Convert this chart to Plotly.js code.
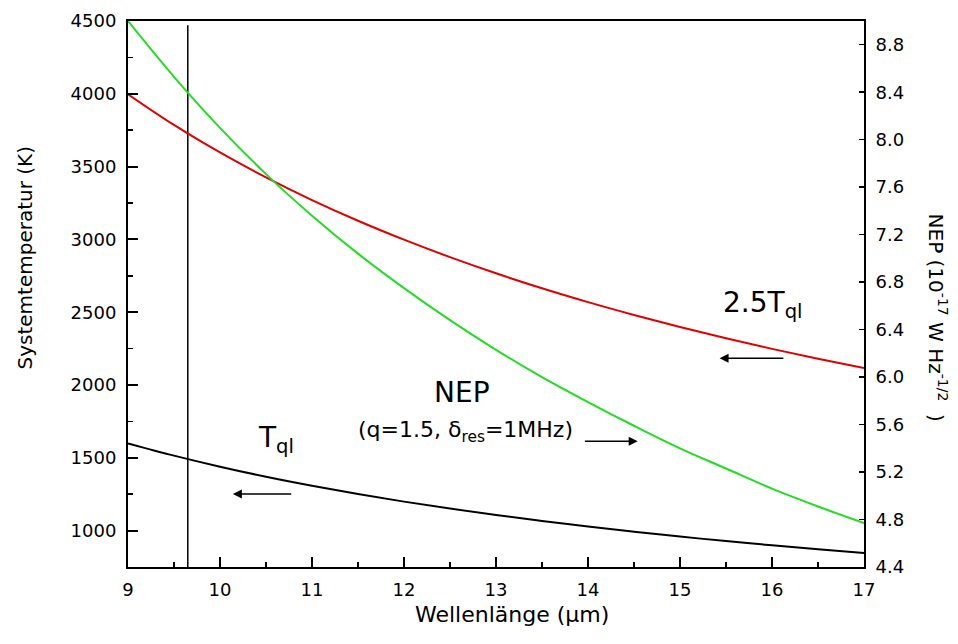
<!DOCTYPE html>
<html>
<head>
<meta charset="utf-8">
<script src="https://cdn.plot.ly/plotly-3.0.1.min.js"></script>
<style>html,body{margin:0;padding:0;background:#fff;}#chart{width:958px;height:644px;}</style>
</head>
<body>
<div id="chart"></div>
<script>
// Wavelength (µm)
const wavelength = [9, 9.5, 10, 10.5, 11, 11.5, 12, 12.5, 13, 13.5, 14, 14.5, 15, 15.5, 16, 16.5, 17];
// T_ql (K), black
const tql = [1599, 1515, 1439, 1370, 1308, 1251, 1199, 1151, 1107, 1066, 1028, 992, 959, 928, 899, 872, 846];
// 2.5 T_ql (K), red
const tql25 = [3997, 3786, 3597, 3426, 3270, 3128, 2998, 2878, 2767, 2664, 2569, 2481, 2398, 2321, 2248, 2180, 2116];
// NEP (1e-17 W Hz^-1/2), green, right axis
const nep = [9.0, 8.53, 8.1, 7.71, 7.36, 7.04, 6.75, 6.48, 6.23, 6.0, 5.79, 5.59, 5.4, 5.23, 5.06, 4.91, 4.77];
// vertical marker line
const markerX = [9.65, 9.65];
const markerY = [4470, 750];
// right-axis long tick positions
const rightLongTicks = [4.8, 5.6, 6.4, 7.2, 8.0, 8.8];

const font = 'DejaVu Sans, Liberation Sans, Arial, sans-serif';

const traces = [
  {x: markerX, y: markerY, mode: 'lines', line: {color: '#000', width: 1.5}, yaxis: 'y', hoverinfo: 'skip'},
  {x: wavelength, y: tql, mode: 'lines', line: {color: '#000', width: 2, shape: 'spline'}, yaxis: 'y'},
  {x: wavelength, y: tql25, mode: 'lines', line: {color: '#e00000', width: 2, shape: 'spline'}, yaxis: 'y'},
  {x: wavelength, y: nep, mode: 'lines', line: {color: '#22dd22', width: 2, shape: 'spline'}, yaxis: 'y2'}
];

const layout = {
  width: 958, height: 644,
  margin: {l: 128, r: 94, t: 21, b: 77},
  paper_bgcolor: '#fff', plot_bgcolor: '#fff',
  showlegend: false,
  font: {family: font, color: '#000', size: 18},
  xaxis: {
    range: [9, 17], dtick: 1, tick0: 9,
    ticks: 'inside', ticklen: 10, tickwidth: 2, tickcolor: '#000',
    minor: {dtick: 0.5, ticks: 'inside', ticklen: 5, tickwidth: 1.5, tickcolor: '#000'},
    showline: true, linewidth: 2, linecolor: '#000', mirror: true,
    showgrid: false, zeroline: false,
    tickfont: {size: 18}, ticklabelstandoff: 5
  },
  yaxis: {
    range: [750, 4500], dtick: 500, tick0: 1000,
    ticks: 'inside', ticklen: 10, tickwidth: 2, tickcolor: '#000',
    minor: {dtick: 250, tick0: 750, ticks: 'inside', ticklen: 5, tickwidth: 1.5, tickcolor: '#000'},
    showline: true, linewidth: 2, linecolor: '#000',
    showgrid: false, zeroline: false,
    tickfont: {size: 18}, ticklabelstandoff: 6
  },
  yaxis2: {
    overlaying: 'y', side: 'right',
    range: [4.4, 9.0], dtick: 0.4, tick0: 4.4, tickformat: '.1f',
    ticks: 'inside', ticklen: 5, tickwidth: 1.5, tickcolor: '#000',
    showline: true, linewidth: 2, linecolor: '#000',
    showgrid: false, zeroline: false,
    tickfont: {size: 18}, ticklabelstandoff: 6
  },
  yaxis3: {
    overlaying: 'y', side: 'right', anchor: 'x',
    range: [4.4, 9.0], tickmode: 'array', tickvals: rightLongTicks,
    ticks: 'inside', ticklen: 10, tickwidth: 2, tickcolor: '#000',
    showticklabels: false, showline: false, showgrid: false, zeroline: false
  },
  annotations: [
    {x: 0.5217, y: -0.087, xref: 'paper', yref: 'paper', xanchor: 'center', yanchor: 'middle', text: 'Wellenlänge (μm)', showarrow: false, font: {size: 22}},
    {x: -0.1406, y: 0.566, xref: 'paper', yref: 'paper', xanchor: 'center', yanchor: 'middle', text: 'Systemtemperatur (K)', textangle: -90, showarrow: false, font: {size: 20}},
    {x: 1.1, y: 0.4576, xref: 'paper', yref: 'paper', xanchor: 'center', yanchor: 'middle', text: 'NEP (10<sup>-17</sup> W Hz<sup>-1/2</sup>  )', textangle: 90, showarrow: false, font: {size: 20}},
    {x: 12.63, y: 1950, xref: 'x', yref: 'y', xanchor: 'center', yanchor: 'middle', text: 'NEP', showarrow: false, font: {size: 28}},
    {x: 12.67, y: 1683, xref: 'x', yref: 'y', xanchor: 'center', yanchor: 'middle', text: '(q=1.5, δ<sub>res</sub>=1MHz)', showarrow: false, font: {size: 22}},
    {x: 10.61, y: 1628, xref: 'x', yref: 'y', xanchor: 'center', yanchor: 'middle', text: 'T<sub>ql</sub>', showarrow: false, font: {size: 28}},
    {x: 15.90, y: 2553, xref: 'x', yref: 'y', xanchor: 'center', yanchor: 'middle', text: '2.5T<sub>ql</sub>', showarrow: false, font: {size: 28}},
    {x: 10.14, y: 1251, ax: 10.79, ay: 1251, xref: 'x', yref: 'y', axref: 'x', ayref: 'y', text: '', showarrow: true, arrowhead: 2, arrowsize: 1.2, arrowwidth: 1.5, arrowcolor: '#000'},
    {x: 14.54, y: 1614, ax: 13.95, ay: 1614, xref: 'x', yref: 'y', axref: 'x', ayref: 'y', text: '', showarrow: true, arrowhead: 2, arrowsize: 1.2, arrowwidth: 1.5, arrowcolor: '#000'},
    {x: 15.43, y: 2183, ax: 16.14, ay: 2183, xref: 'x', yref: 'y', axref: 'x', ayref: 'y', text: '', showarrow: true, arrowhead: 2, arrowsize: 1.2, arrowwidth: 1.5, arrowcolor: '#000'}
  ]
};

Plotly.newPlot('chart', traces, layout, {staticPlot: true, displayModeBar: false});
</script>
</body>
</html>
